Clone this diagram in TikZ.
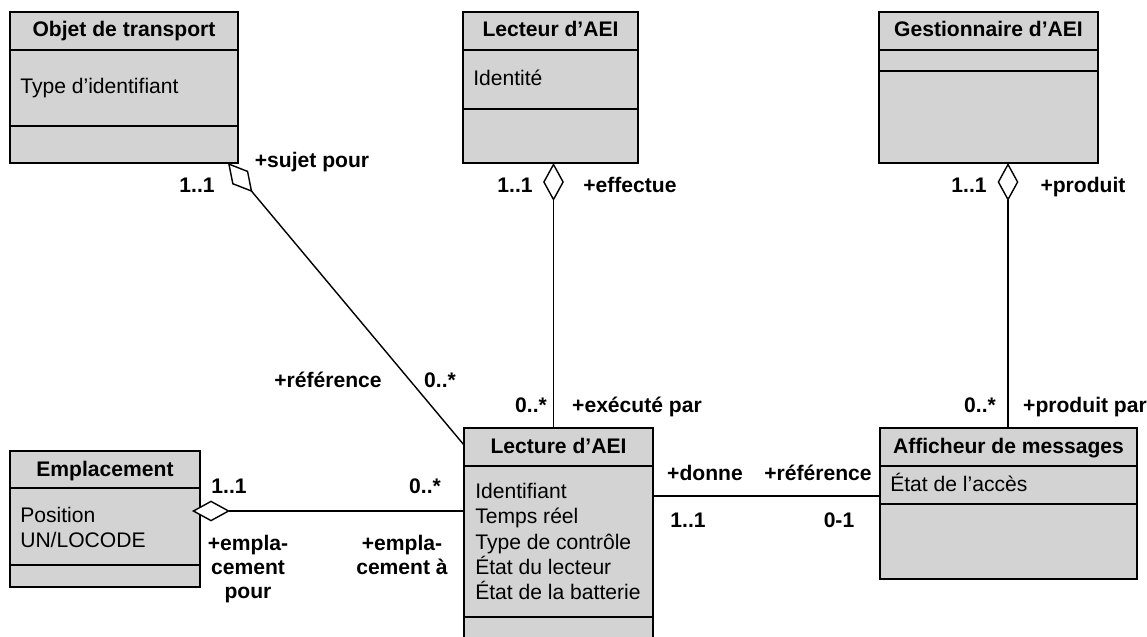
\documentclass[tikz,border=0pt]{standalone}
\usepackage{fontspec}
\setmainfont{Liberation Sans}
\usetikzlibrary{arrows.meta, positioning, calc}
\definecolor{umlgray}{RGB}{211,211,211}
\newcommand\umlfont{\fontsize{15}{18}\selectfont}
\newcommand\rolefont{\fontsize{15}{17}\selectfont}

\begin{document}
\begin{tikzpicture}[
  x=0.025cm, y=-0.025cm,
  cls/.style={rectangle, draw, fill=umlgray, line width=1.3pt,
              anchor=north west, inner sep=0pt, outer sep=0pt},
  sep/.style={line width=1.3pt},
  title/.style={font=\umlfont\bfseries, anchor=base, inner sep=0pt},
  attr/.style={font=\umlfont, anchor=base west, inner sep=0pt},
  attrs/.style={font=\umlfont, anchor=north west, align=left, inner sep=0pt},
  role/.style={font=\rolefont\bfseries, anchor=base, inner sep=0pt},
  agg/.style={{Diamond[open, fill=white, length=0.95cm, width=0.52cm]}-, line width=1pt},
  assoc/.style={line width=1pt}
]
  \useasboundingbox (0,0) rectangle (1147,637);

  %% -- Objet de transport
  \node[cls, minimum width=228*0.025cm, minimum height=151*0.025cm] (obj) at (10,12) {};
  \node[title] (objt) at (124,37) {Objet de transport};
  \draw[sep] (10,50) -- (238,50);
  \draw[sep] (10,126) -- (238,126);
  \node[attr] (obja) at (20,94) {Type d’identifiant};

  %% -- Lecteur d'AEI
  \node[cls, minimum width=175*0.025cm, minimum height=151*0.025cm] (lecteur) at (463,12) {};
  \node[title] (lecteurt) at (550.5,37) {Lecteur d’AEI};
  \draw[sep] (463,50) -- (638,50);
  \draw[sep] (463,109) -- (638,109);
  \node[attr] (lecteura) at (473,86) {Identité};

  %% -- Gestionnaire d'AEI
  \node[cls, minimum width=219*0.025cm, minimum height=151*0.025cm] (gest) at (879,12) {};
  \node[title] (gestt) at (988.5,37) {Gestionnaire d’AEI};
  \draw[sep] (879,50) -- (1098,50);
  \draw[sep] (879,71) -- (1098,71);

  %% -- Emplacement
  \node[cls, minimum width=190*0.025cm, minimum height=136*0.025cm] (emp) at (10,451) {};
  \node[title] (empt) at (105,476) {Emplacement};
  \draw[sep] (10,488) -- (200,488);
  \draw[sep] (10,565) -- (200,565);
  \node[attrs] (empa) at (20,507) {Position\\UN/LOCODE};

  %% -- Lecture d'AEI
  \node[cls, minimum width=189*0.025cm, minimum height=232*0.025cm] (lect) at (464,428) {};
  \node[title] (lectt) at (558.5,453) {Lecture d’AEI};
  \draw[sep] (464,466) -- (653,466);
  \draw[sep] (464,617) -- (653,617);
  \node[attrs] (lecta) at (475,483) {Identifiant\\Temps réel\\Type de contrôle\\État du lecteur\\État de la batterie};

  %% -- Afficheur de messages
  \node[cls, minimum width=257*0.025cm, minimum height=151*0.025cm] (aff) at (880,428) {};
  \node[title] (afft) at (1008.5,453) {Afficheur de messages};
  \draw[sep] (880,466) -- (1137,466);
  \draw[sep] (880,504) -- (1137,504);
  \node[attr] (affa) at (890,491) {État de l’accès};

  %% Association ends
  \coordinate (objEnd)  at ($(obj.south east)+(-10,0)$);
  \coordinate (lectTL)  at ($(lect.north west)+(0,17)$);
  \coordinate (lecEnd)  at ($(lecteur.south)+(3,0)$);
  \coordinate (gestEnd) at ($(gest.south)+(19.5,0)$);
  \coordinate (empEnd)  at ($(emp.north east)+(-8,60)$);
  \coordinate (lectR)   at ($(lect.north east)+(0,68)$);

  %% Associations
  \draw[agg] (objEnd) -- (lectTL);
  \draw[agg] (lecEnd) -- (lecEnd |- lect.north);
  \draw[agg] (gestEnd) -- (gestEnd |- aff.north);
  \draw[agg] (empEnd) -- (empEnd -| lect.west);
  \draw[assoc] (lectR) -- (lectR -| aff.west);

  %% Roles and multiplicities
  \node[role] (m1) at (197,193) {1..1};
  \node[role] (r1) at (312,167) {+sujet pour};
  \node[role] (r2) at (328,387) {+référence};
  \node[role] (m2) at (440,387) {0..*};

  \node[role] (m3) at (515,193) {1..1};
  \node[role] (r3) at (630,193) {+effectue};
  \node[role] (m4) at (531,412) {0..*};
  \node[role] (r4) at (637,412) {+exécuté par};

  \node[role] (m5) at (969,193) {1..1};
  \node[role] (r5) at (1083,193) {+produit};
  \node[role] (m6) at (980,412) {0..*};
  \node[role] (r6) at (1085,412) {+produit par};

  \node[role] (m7) at (229,493) {1..1};
  \node[role] (m8) at (425,493) {0..*};
  \node[role, anchor=north, align=center] (r7) at (248,535) {+empla-\\cement\\pour};
  \node[role, anchor=north, align=center] (r8) at (402,535) {+empla-\\cement à};

  \node[role] (r9) at (705,480) {+donne};
  \node[role] (r10) at (818,480) {+référence};
  \node[role] (m9) at (688,527) {1..1};
  \node[role] (m10) at (839,527) {0-1};

\end{tikzpicture}
\end{document}
